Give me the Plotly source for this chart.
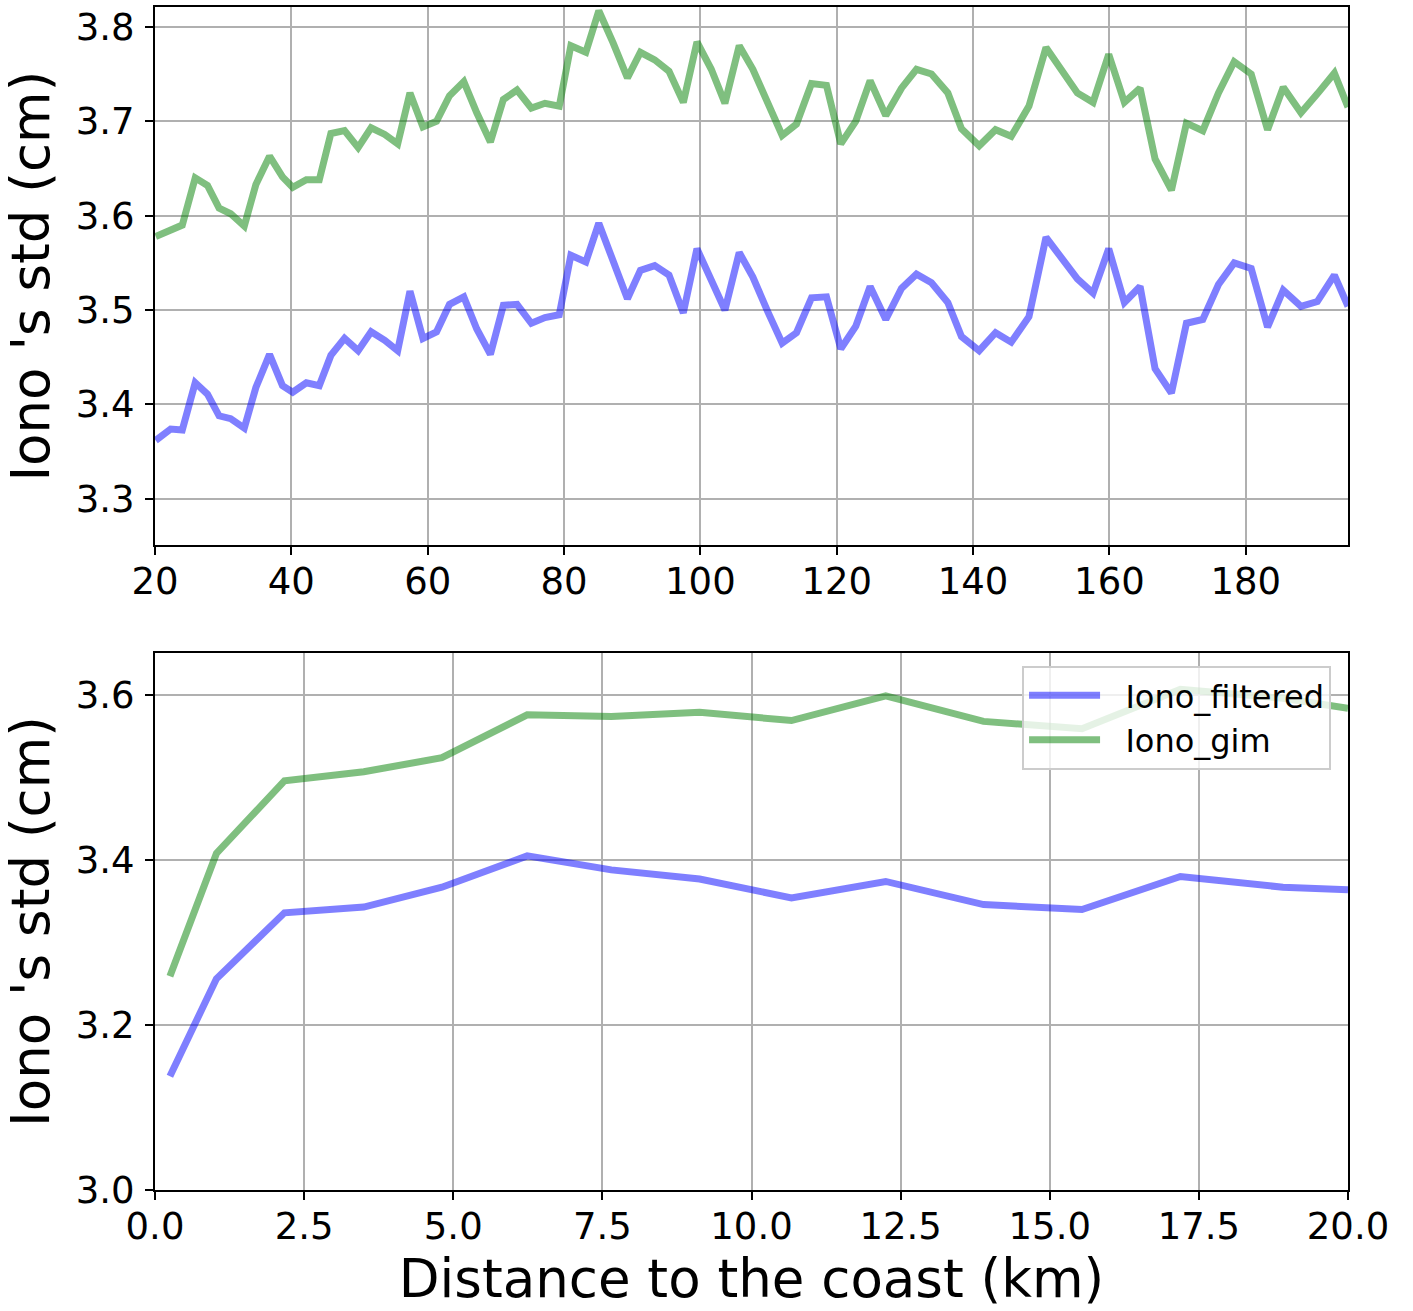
import plotly.graph_objects as go

# ---------------- data: top panel (distance 20-195 km) ----------------
top_dist = [20.1, 22.3, 24.0, 25.9, 27.7, 29.4, 31.1, 33.1, 34.8, 36.8, 38.7, 40.2, 42.2, 44.1,
            45.8, 47.8, 49.8, 51.7, 53.7, 55.6, 57.4, 59.3, 61.3, 63.2, 65.3, 67.2, 69.2, 71.1,
            73.1, 75.2, 77.2, 79.3, 81.0, 83.2, 85.1, 87.2, 89.3, 91.2, 93.3, 95.4, 97.5, 99.5,
            101.6, 103.6, 105.7, 107.7, 109.9, 112.0, 114.1, 116.3, 118.5, 120.6, 122.8, 124.9,
            127.2, 129.5, 131.7, 133.9, 136.3, 138.3, 140.9, 143.3, 145.6, 148.2, 150.7, 153.0,
            155.3, 157.6, 159.9, 162.2, 164.5, 166.7, 169.1, 171.3, 173.7, 176.0, 178.3, 180.8,
            183.2, 185.5, 188.1, 190.5, 193.0, 195.0]
top_gim = [3.578, 3.585, 3.590, 3.640, 3.632, 3.608, 3.602, 3.589, 3.633, 3.663, 3.641, 3.630,
           3.638, 3.638, 3.687, 3.690, 3.672, 3.693, 3.686, 3.676, 3.730, 3.694, 3.700, 3.727,
           3.742, 3.709, 3.678, 3.723, 3.733, 3.714, 3.719, 3.716, 3.780, 3.773, 3.817, 3.783,
           3.746, 3.773, 3.765, 3.753, 3.720, 3.784, 3.755, 3.719, 3.780, 3.755, 3.721, 3.685,
           3.697, 3.740, 3.738, 3.676, 3.700, 3.743, 3.706, 3.735, 3.755, 3.750, 3.730, 3.692,
           3.674, 3.691, 3.684, 3.716, 3.778, 3.755, 3.730, 3.720, 3.771, 3.720, 3.735, 3.660,
           3.627, 3.698, 3.690, 3.730, 3.763, 3.750, 3.691, 3.736, 3.709, 3.729, 3.751, 3.715]
top_filtered = [3.362, 3.374, 3.373, 3.423, 3.411, 3.388, 3.385, 3.375, 3.418, 3.453, 3.420, 3.413,
                3.423, 3.420, 3.452, 3.470, 3.457, 3.477, 3.468, 3.457, 3.520, 3.470, 3.477, 3.506,
                3.514, 3.480, 3.453, 3.505, 3.506, 3.486, 3.492, 3.495, 3.558, 3.551, 3.592, 3.554,
                3.512, 3.542, 3.547, 3.537, 3.497, 3.565, 3.532, 3.500, 3.561, 3.535, 3.498, 3.465,
                3.476, 3.513, 3.514, 3.459, 3.483, 3.525, 3.490, 3.523, 3.538, 3.529, 3.508, 3.472,
                3.457, 3.476, 3.466, 3.493, 3.577, 3.556, 3.533, 3.518, 3.565, 3.508, 3.525, 3.438,
                3.412, 3.486, 3.490, 3.527, 3.550, 3.544, 3.482, 3.521, 3.504, 3.509, 3.537, 3.504]

# ---------------- data: bottom panel (distance 0-20 km) ----------------
bot_dist = [0.25, 1.03, 2.17, 3.50, 4.81, 6.24, 7.65, 9.13, 10.67, 12.25, 13.89, 15.54, 17.19, 18.91, 20.0]
bot_gim = [3.259, 3.408, 3.496, 3.507, 3.524, 3.576, 3.574, 3.579, 3.569, 3.599, 3.568, 3.559,
           3.607, 3.596, 3.584]
bot_filtered = [3.138, 3.256, 3.336, 3.343, 3.367, 3.405, 3.388, 3.377, 3.354, 3.374, 3.346, 3.340,
                3.380, 3.367, 3.364]

top_xticks = [20, 40, 60, 80, 100, 120, 140, 160, 180]
top_yticks = [3.3, 3.4, 3.5, 3.6, 3.7, 3.8]
bot_xticks = [0.0, 2.5, 5.0, 7.5, 10.0, 12.5, 15.0, 17.5, 20.0]
bot_yticks = [3.0, 3.2, 3.4, 3.6]
series_names = ["Iono_filtered", "Iono_gim"]

BLUE = "rgba(0,0,255,0.5)"
GREEN = "rgba(0,128,0,0.5)"
FONT = "DejaVu Sans"
LW = 7
PAD = "\u00a0\u00a0"

fig = go.Figure()
fig.add_trace(go.Scatter(x=top_dist, y=top_filtered, mode="lines", line=dict(color=BLUE, width=LW),
                         xaxis="x", yaxis="y", showlegend=False, name=series_names[0]))
fig.add_trace(go.Scatter(x=top_dist, y=top_gim, mode="lines", line=dict(color=GREEN, width=LW),
                         xaxis="x", yaxis="y", showlegend=False, name=series_names[1]))
fig.add_trace(go.Scatter(x=bot_dist, y=bot_filtered, mode="lines", line=dict(color=BLUE, width=LW),
                         xaxis="x2", yaxis="y2", name=PAD + series_names[0]))
fig.add_trace(go.Scatter(x=bot_dist, y=bot_gim, mode="lines", line=dict(color=GREEN, width=LW),
                         xaxis="x2", yaxis="y2", name=PAD + series_names[1]))

axis_common = dict(
    showline=True, linecolor="black", linewidth=2, mirror=True,
    ticks="outside", ticklen=8, tickwidth=2, tickcolor="black",
    showgrid=True, gridcolor="#b0b0b0", gridwidth=2,
    zeroline=False,
    tickfont=dict(family=FONT, size=37, color="black"),
)
title_font = dict(family=FONT, size=53, color="black")

fig.update_layout(
    width=1413, height=1311,
    margin=dict(l=155, r=65, t=5, b=121),
    paper_bgcolor="white", plot_bgcolor="white",
    font=dict(family=FONT, color="black"),
    xaxis=dict(domain=[0, 1], anchor="y", range=[20, 195], tickvals=top_xticks,
               ticktext=[str(v) for v in top_xticks], ticklabelstandoff=-6, **axis_common),
    yaxis=dict(domain=[0.5451, 1.0], anchor="x", range=[3.251, 3.821], tickvals=top_yticks,
               ticktext=["%.1f" % v for v in top_yticks], ticklabelstandoff=3,
               title=dict(text="Iono 's std (cm)", font=title_font, standoff=14),
               **axis_common),
    xaxis2=dict(domain=[0, 1], anchor="y2", range=[0, 20], tickvals=bot_xticks,
                ticktext=["%.1f" % v for v in bot_xticks], ticklabelstandoff=-5,
                title=dict(text="Distance to the coast (km)", font=title_font, standoff=12),
                **axis_common),
    yaxis2=dict(domain=[0.0, 0.454], anchor="x2", range=[3.0, 3.651], tickvals=bot_yticks,
                ticktext=["%.1f" % v for v in bot_yticks], ticklabelstandoff=3,
                title=dict(text="Iono 's std (cm)", font=title_font, standoff=14),
                **axis_common),
    legend=dict(x=0.9858, y=0.443, xanchor="right", yanchor="top",
                bgcolor="rgba(255,255,255,0.8)", bordercolor="#cccccc", borderwidth=2,
                font=dict(family=FONT, size=32, color="black"), itemwidth=71,
                tracegroupgap=0),
)

fig.write_html("out.html")
